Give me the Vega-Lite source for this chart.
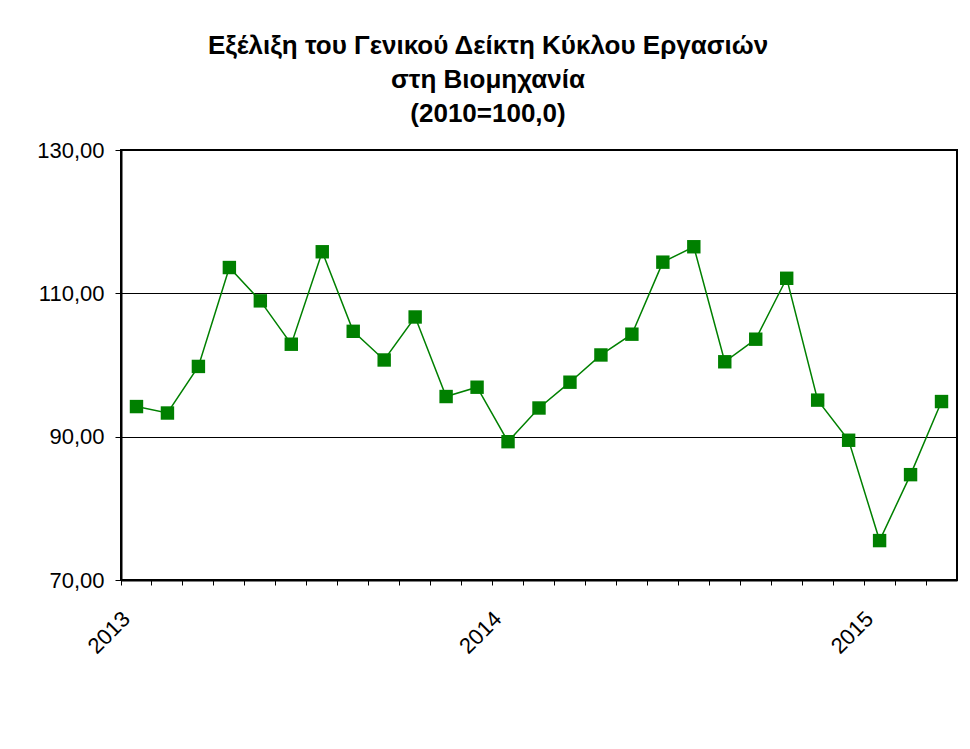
{
  "$schema": "https://vega.github.io/schema/vega-lite/v6.json",
  "width": 836,
  "height": 430,
  "autosize": {"type": "none"},
  "padding": {"left": 121, "top": 150, "right": 13, "bottom": 169},
  "background": "white",
  "title": {
    "text": ["Εξέλιξη του Γενικού Δείκτη Κύκλου Εργασιών", "στη Βιομηχανία", "(2010=100,0)"],
    "font": "Liberation Sans",
    "fontSize": 26,
    "fontWeight": "bold",
    "color": "black",
    "lineHeight": 34,
    "anchor": "middle",
    "frame": "group",
    "dx": -51,
    "offset": 12
  },
  "config": {
    "view": {"stroke": "black", "strokeWidth": 2},
    "font": "Liberation Sans"
  },
  "data": {
    "values": [
      {"month": "2013-01", "value": 94.2},
      {"month": "2013-02", "value": 93.3},
      {"month": "2013-03", "value": 99.8},
      {"month": "2013-04", "value": 113.6},
      {"month": "2013-05", "value": 108.95},
      {"month": "2013-06", "value": 102.9},
      {"month": "2013-07", "value": 115.8},
      {"month": "2013-08", "value": 104.7},
      {"month": "2013-09", "value": 100.7},
      {"month": "2013-10", "value": 106.7},
      {"month": "2013-11", "value": 95.6},
      {"month": "2013-12", "value": 96.9},
      {"month": "2014-01", "value": 89.3},
      {"month": "2014-02", "value": 94.0},
      {"month": "2014-03", "value": 97.6},
      {"month": "2014-04", "value": 101.4},
      {"month": "2014-05", "value": 104.3},
      {"month": "2014-06", "value": 114.35},
      {"month": "2014-07", "value": 116.5},
      {"month": "2014-08", "value": 100.45},
      {"month": "2014-09", "value": 103.6},
      {"month": "2014-10", "value": 112.1},
      {"month": "2014-11", "value": 95.1},
      {"month": "2014-12", "value": 89.5},
      {"month": "2015-01", "value": 75.5},
      {"month": "2015-02", "value": 84.7},
      {"month": "2015-03", "value": 94.9}
    ]
  },
  "encoding": {
    "x": {
      "field": "month",
      "type": "ordinal",
      "sort": null,
      "bandPosition": 0.5,
      "scale": {"type": "band", "paddingInner": 0, "paddingOuter": 0},
      "axis": {
        "title": null,
        "bandPosition": 0,
        "labelExpr": "slice(datum.value, 5) == '01' ? slice(datum.value, 0, 4) : ''",
        "labelAngle": -45,
        "labelAlign": "right",
        "labelBaseline": "middle",
        "labelOffset": -10,
        "labelPadding": 30,
        "labelFontSize": 22,
        "labelColor": "black",
        "labelOverlap": false,
        "tickSize": 5,
        "tickColor": "black",
        "domainColor": "black",
        "domainWidth": 2,
        "grid": false
      }
    },
    "y": {
      "field": "value",
      "type": "quantitative",
      "scale": {"domain": [70, 130], "nice": false, "zero": false},
      "axis": {
        "title": null,
        "values": [70, 90, 110, 130],
        "labelExpr": "replace(format(datum.value, '.2f'), '.', ',')",
        "labelFontSize": 22,
        "labelColor": "black",
        "labelPadding": 11,
        "grid": true,
        "gridColor": "black",
        "gridWidth": 1,
        "gridOpacity": 1,
        "tickColor": "black",
        "tickSize": 6,
        "domainColor": "black",
        "domainWidth": 2
      }
    }
  },
  "layer": [
    {"mark": {"type": "line", "color": "#008000", "strokeWidth": 1.5}},
    {"mark": {"type": "square", "size": 180, "filled": true, "color": "#008000", "opacity": 1}}
  ]
}
